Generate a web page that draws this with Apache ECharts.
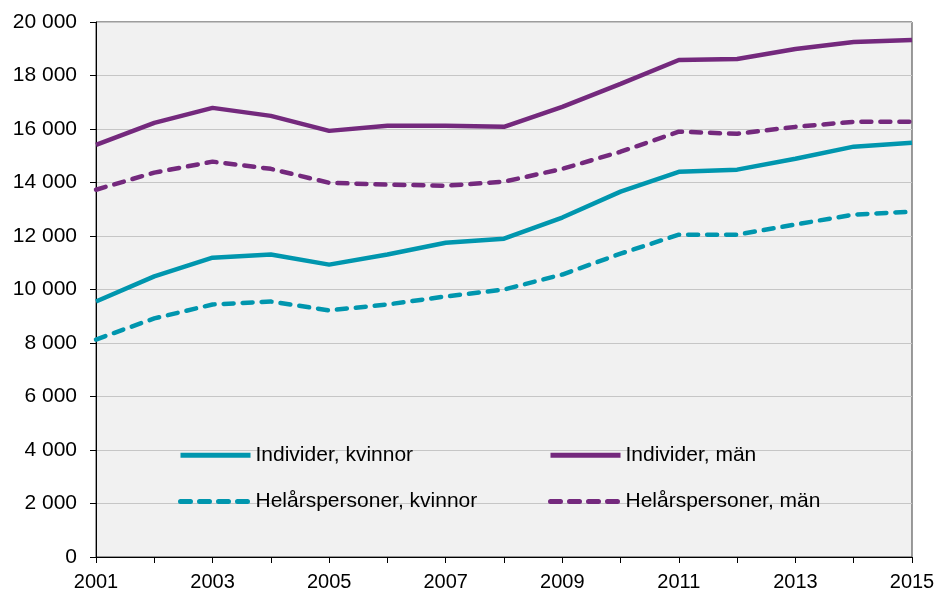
<!DOCTYPE html>
<html>
<head>
<meta charset="utf-8">
<script src="https://cdn.jsdelivr.net/npm/echarts@6/dist/echarts.min.js"></script>
<style>
  html, body { margin: 0; padding: 0; background: #fff; }
  #chart { width: 944px; height: 592px; }
</style>
</head>
<body>
<div id="chart"></div>
<script>
const years = ["2001", "2002", "2003", "2004", "2005", "2006", "2007", "2008",
  "2009", "2010", "2011", "2012", "2013", "2014", "2015"];

const individerKvinnor = [9550, 10490, 11190, 11310, 10930, 11310, 11750, 11900,
  12690, 13660, 14400, 14480, 14890, 15340, 15490];
const individerMan = [15410, 16230, 16790, 16490, 15930, 16120, 16120, 16080,
  16830, 17690, 18580, 18620, 18990, 19250, 19330];
const helarKvinnor = [8130, 8920, 9440, 9550, 9220, 9440, 9740, 10000,
  10560, 11340, 12050, 12050, 12430, 12800, 12910];
const helarMan = [13730, 14370, 14780, 14510, 13990, 13920, 13880, 14030,
  14510, 15150, 15900, 15820, 16080, 16270, 16270];

const teal = "#0096ae";
const purple = "#74297d";
const font = "Liberation Sans, Arial, sans-serif";

const fmt = (v) => String(v).replace(/\B(?=(\d{3})+(?!\d))/g, " ");

const line = (name, data, color, dashed) => ({
  name: name,
  type: "line",
  data: data,
  symbol: "none",
  lineStyle: {
    color: color,
    width: 4.5,
    type: dashed ? [10, 9] : "solid",
    cap: dashed ? "round" : "butt",
  },
  itemStyle: { color: color },
});

const legendStyle = {
  orient: "vertical",
  top: 439,
  itemWidth: 70,
  itemHeight: 28,
  itemGap: 24,
  itemStyle: { opacity: 0 },
  lineStyle: { width: 5 },
  textStyle: { fontFamily: font, fontSize: 21, color: "#000" },
};

const myChart = echarts.init(document.getElementById("chart"));
myChart.setOption({
  animation: false,
  textStyle: { fontFamily: font },
  grid: {
    left: 96,
    right: 32,
    top: 22,
    bottom: 34,
    show: true,
    backgroundColor: "#f1f1f1",
    borderColor: "#3a3a3a",
    borderWidth: 1,
  },
  legend: [
    Object.assign({ left: 173, data: ["Individer, kvinnor", "Helårspersoner, kvinnor"] }, legendStyle),
    Object.assign({ left: 543, data: ["Individer, män", "Helårspersoner, män"] }, legendStyle),
  ],
  xAxis: {
    type: "category",
    data: years,
    boundaryGap: false,
    axisLine: { lineStyle: { color: "#000", width: 1 } },
    axisTick: { show: true, length: 6, interval: 0, lineStyle: { color: "#000" } },
    axisLabel: {
      interval: 1,
      color: "#000",
      fontSize: 20,
      margin: 15,
    },
    splitLine: { show: false },
  },
  yAxis: {
    type: "value",
    min: 0,
    max: 20000,
    interval: 2000,
    axisLine: { show: true, lineStyle: { color: "#000", width: 1 } },
    axisTick: { show: true, length: 6, lineStyle: { color: "#000" } },
    axisLabel: {
      color: "#000",
      fontSize: 21,
      margin: 19,
      formatter: fmt,
    },
    splitLine: { lineStyle: { color: "#c6c6c6", width: 1 } },
  },
  series: [
    line("Individer, kvinnor", individerKvinnor, teal, false),
    line("Individer, män", individerMan, purple, false),
    line("Helårspersoner, kvinnor", helarKvinnor, teal, true),
    line("Helårspersoner, män", helarMan, purple, true),
  ],
});

window.addEventListener("resize", () => myChart.resize());
</script>
</body>
</html>
